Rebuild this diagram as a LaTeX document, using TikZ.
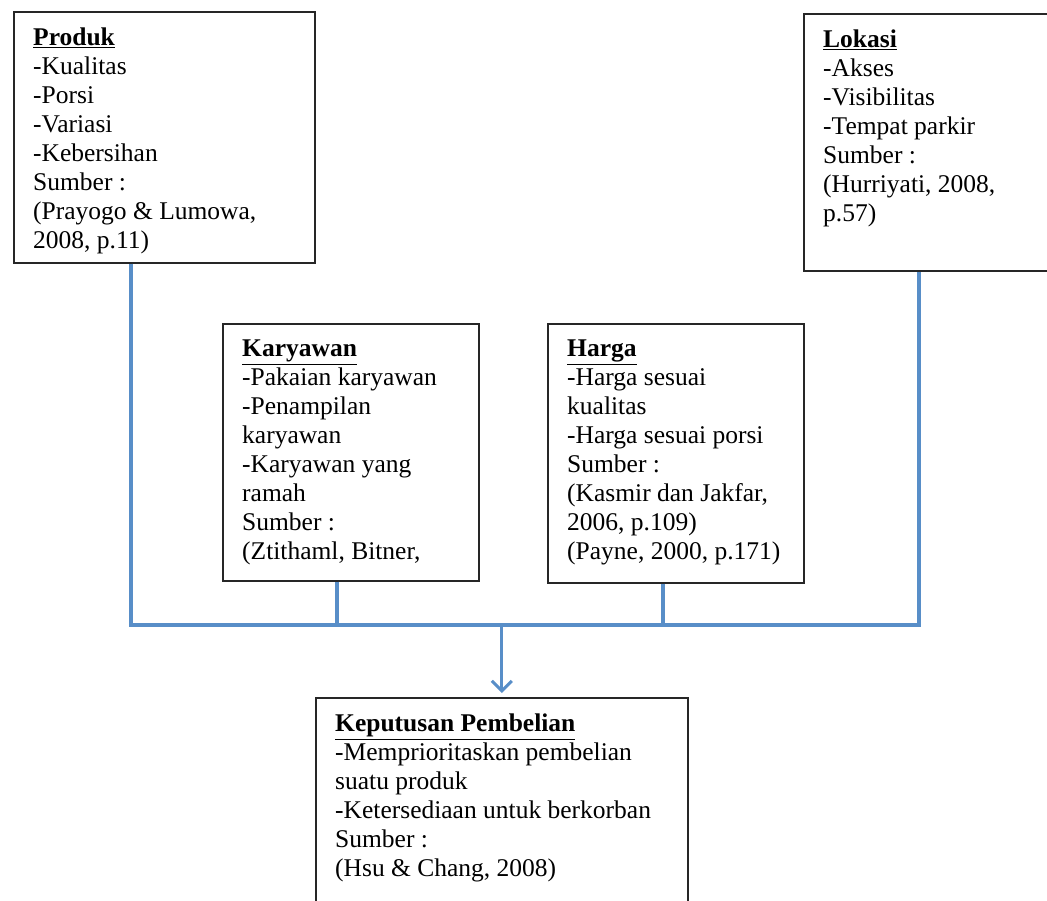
\documentclass[tikz,border=0pt]{standalone}
\usepackage{fontspec}
\setmainfont{Liberation Serif}
\usepackage{tikz}
\usetikzlibrary{positioning,calc}
\usetikzlibrary{arrows.meta}
\definecolor{garis}{RGB}{88,142,200}
\tikzstyle{kotak} = [rectangle, anchor=north west, draw=black!85, line width=1.6pt, inner sep=0pt]
\tikzstyle{isi} = [inner sep=0pt, align=left, font=\fontsize{25.5}{29}\selectfont]
\tikzstyle{garis} = [draw=garis, line width=3.5pt, line join=miter]
\newcommand{\judul}[1]{\underline{\textbf{#1}}}

\begin{document}
\begin{tikzpicture}[x=1pt,y=-1pt]
						\useasboundingbox (0,0) rectangle (1047,901);
						\node[kotak, minimum width=301pt, minimum height=251pt] (produk) at (13,11) {};
						\node[kotak, minimum width=260pt, minimum height=257pt] (lokasi) at (803,13) {};
						\node[kotak, minimum width=256pt, minimum height=257pt] (karyawan) at (222,323) {};
						\node[kotak, minimum width=256pt, minimum height=259pt] (harga) at (547,323) {};
						\node[kotak, minimum width=372pt, minimum height=230pt] (keputusan) at (315,697) {};
						\node[isi, below right=17pt and 20pt of produk.north west] (tproduk) {\judul{Produk}\\-Kualitas\\-Porsi\\-Variasi\\-Kebersihan\\Sumber :\\(Prayogo \& Lumowa,\\2008, p.11)};
						\node[isi, below right=17pt and 20pt of lokasi.north west] (tlokasi) {\judul{Lokasi}\\-Akses\\-Visibilitas\\-Tempat parkir\\Sumber :\\(Hurriyati, 2008,\\p.57)};
						\node[isi, below right=17pt and 20pt of karyawan.north west] (tkaryawan) {\judul{Karyawan}\\-Pakaian karyawan\\-Penampilan\\karyawan\\-Karyawan yang\\ramah\\Sumber :\\(Ztithaml, Bitner,};
						\node[isi, below right=17pt and 20pt of harga.north west] (tharga) {\judul{Harga}\\-Harga sesuai\\kualitas\\-Harga sesuai porsi\\Sumber :\\(Kasmir dan Jakfar,\\2006, p.109)\\(Payne, 2000, p.171)};
						\node[isi, below right=17pt and 20pt of keputusan.north west] (tkeputusan) {\judul{Keputusan Pembelian}\\-Memprioritaskan pembelian\\suatu produk\\-Ketersediaan untuk berkorban\\Sumber :\\(Hsu \& Chang, 2008)};
						\coordinate (jproduk) at (131,625);
						\coordinate (jlokasi) at (919,625);
						\coordinate (jkaryawan) at (337,625);
						\coordinate (jharga) at (663,625);
						\coordinate (jtengah) at (keputusan.north |- jproduk);
						\draw[garis] (produk.south -| jproduk) -- (jproduk) -- (jlokasi) -- (lokasi.south -| jlokasi);
						\draw[garis] (karyawan.south -| jkaryawan) -- (jkaryawan);
						\draw[garis] (harga.south -| jharga) -- (jharga);
						\draw[garis, line width=3pt, shorten >=4pt, -{Straight Barb[length=10pt,width=20pt,line width=3pt]}] (jtengah) -- (keputusan.north);
					\end{tikzpicture}
\end{document}
